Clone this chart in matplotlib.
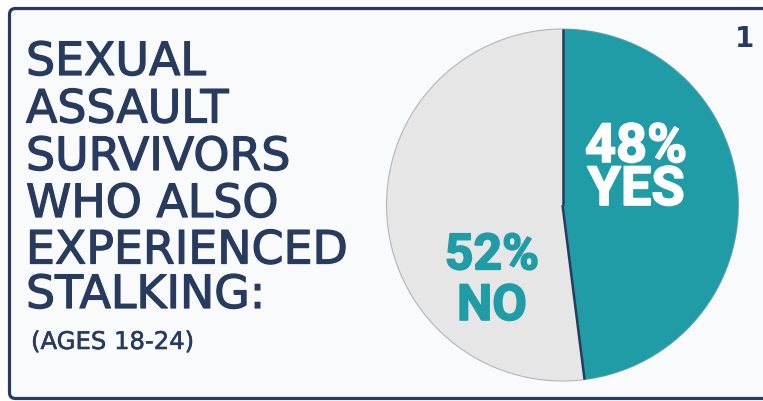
import matplotlib
matplotlib.use("Agg")
import matplotlib.pyplot as plt
import matplotlib.patheffects as pe
from matplotlib.patches import FancyBboxPatch, Circle
import numpy as np

# data
labels = ['YES', 'NO']
shares = [48, 52]
title_lines = ['SEXUAL', 'ASSAULT', 'SURVIVORS', 'WHO ALSO', 'EXPERIENCED', 'STALKING:']
subtitle = '(AGES 18-24)'
panel_number = '1'

navy = '#283b5f'
teal = '#1f9ca6'
grey = '#e6e6e7'

W, H = 763, 401
fig = plt.figure(figsize=(W / 100, H / 100), dpi=100, facecolor='white')
ax = fig.add_axes([0, 0, 1, 1])

# frame (right side runs off the picture)
frame = FancyBboxPatch((9.5, 2.5), 800, 390, boxstyle='round,pad=0,rounding_size=6',
                       facecolor='#f9fafb', edgecolor=navy, linewidth=2.3, zorder=0)
ax.add_patch(frame)

# pie
cx, cy, r = 562.5, H - 205, 176
wedges, _ = ax.pie(shares, colors=[teal, grey], startangle=90, counterclock=False,
                   center=(cx, cy), radius=r, frame=True,
                   wedgeprops=dict(linewidth=0))
ax.set_xlim(0, W)
ax.set_ylim(0, H)
ax.set_aspect('equal')
ax.axis('off')
ax.add_patch(Circle((cx, cy), r, facecolor='none', edgecolor='#b5b5b8', linewidth=0.8, zorder=2))
ax.add_patch(Circle((cx, cy), r, facecolor='none', edgecolor=teal, linewidth=1.0, zorder=2,
                    clip_path=wedges[0]))

# divider lines between the wedges
w = wedges[0]
for ang in (w.theta1, w.theta2):
    a = np.deg2rad(ang)
    ax.plot([cx, cx + r * np.cos(a)], [cy, cy + r * np.sin(a)],
            color=navy, linewidth=1.8, solid_capstyle='butt', zorder=3)

# wedge labels (baseline of the last line)
thick_w = [pe.withStroke(linewidth=1.2, foreground='white')]
thick_t = [pe.withStroke(linewidth=1.2, foreground=teal)]
ax.text(636, H - 205, f'{shares[0]}%\n{labels[0]}', color='white', fontsize=39,
        fontweight='bold', family='Roboto', ha='center', va='baseline',
        multialignment='center', linespacing=0.8, zorder=4, path_effects=thick_w)
ax.text(492, H - 320, f'{shares[1]}%\n{labels[1]}', color=teal, fontsize=36,
        fontweight='bold', family='Roboto', ha='center', va='baseline',
        multialignment='center', linespacing=1.1, zorder=4, path_effects=thick_t)

# title block
thick_n = [pe.withStroke(linewidth=0.9, foreground=navy)]
baselines = [75, 122.5, 170, 217, 263.5, 308]
for line, yb in zip(title_lines, baselines):
    ax.text(26, H - yb, line, color=navy, fontsize=33, family='DejaVu Sans',
            ha='left', va='baseline', path_effects=thick_n)
ax.text(31, H - 349, subtitle, color=navy, fontsize=17.5, family='DejaVu Sans',
        ha='left', va='baseline', path_effects=[pe.withStroke(linewidth=0.4, foreground=navy)])

ax.text(745, H - 47, panel_number, color=navy, fontsize=20, fontweight='bold',
        family='DejaVu Sans', ha='center', va='baseline')

fig.savefig('out.png', dpi=100, facecolor='white')
